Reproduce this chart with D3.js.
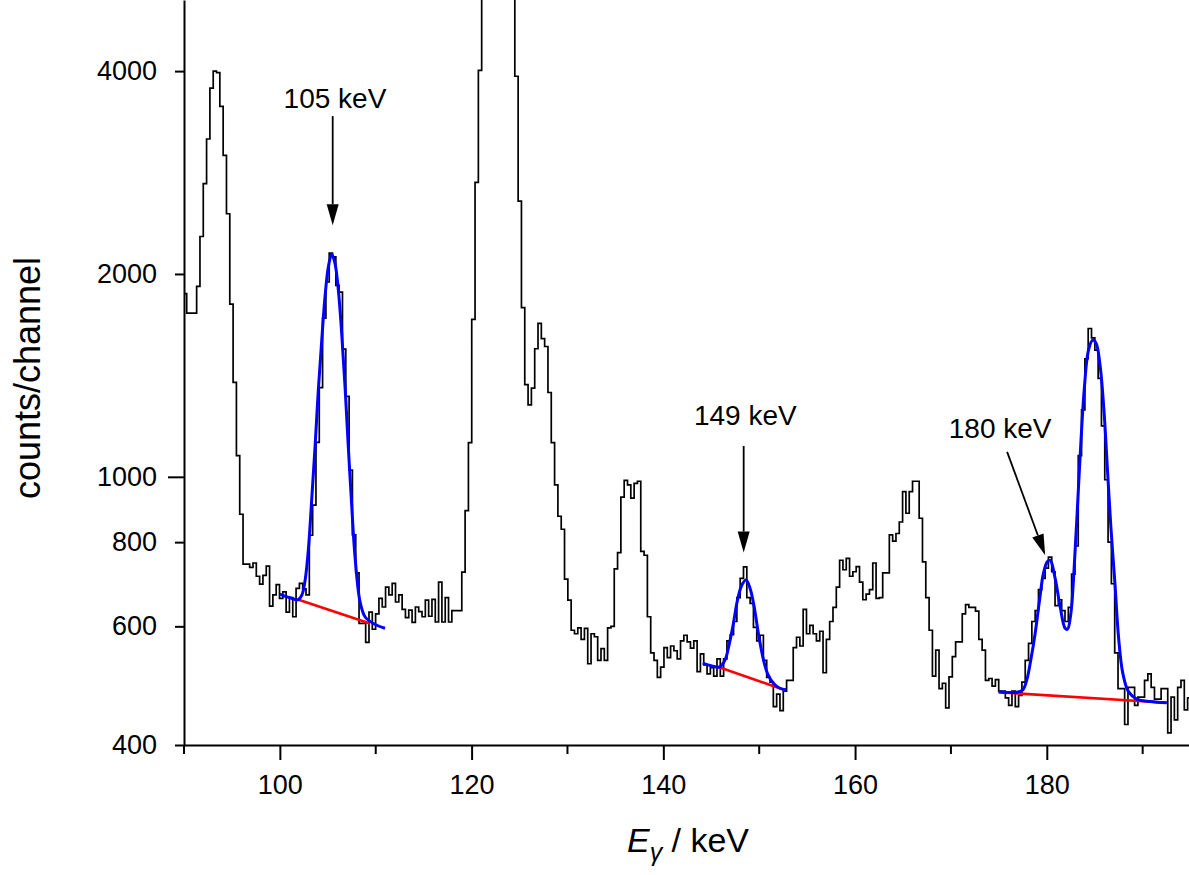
<!DOCTYPE html>
<html>
<head>
<meta charset="utf-8">
<script src="https://cdn.jsdelivr.net/npm/d3@7"></script>
<style>
body { margin: 0; background: #fff; }
text { font-family: "Liberation Sans", Arial, sans-serif; fill: #000; }
</style>
</head>
<body>
<div id="chart"></div>
<script>
// spectrum: counts per channel, channels are 0.3457 keV wide
var firstChannel = 89.936;
var channelWidth = 0.34572;
var counts = [
    1870, 1750, 1750, 1750, 1917, 2273, 2724, 3172, 3773, 4000, 3980, 3545, 3000, 2457, 1804, 1381, 1075, 880, 742, 742,
    734, 745, 712, 693, 714, 737, 643, 668, 692, 660, 675, 630, 662, 620, 683, 695, 682, 668,
    819, 908, 1125, 1356, 1720, 1946, 2148, 2120, 1923, 1880, 1547, 1316, 1023, 820, 720, 606, 606, 568,
    630, 594, 626, 660, 641, 686, 668, 695, 652, 668, 636, 618, 634, 608, 641, 631, 620, 656, 621, 658, 609, 698, 609, 662, 609, 633, 633, 633,
    722, 891, 1124, 1713, 2735, 4010, 5600, 8200, 11500, 14800, 16500, 16000, 13500, 10200, 7400, 5400,
    3930, 2566, 1783, 1370, 1279, 1354, 1549, 1689, 1604, 1561, 1334, 1124, 973, 874, 836, 705, 656, 592, 585, 597,
    574, 596, 528, 585, 579, 534, 556, 534, 597, 600, 730, 772, 933, 988, 973, 930, 978, 985,
    775, 765, 620, 548, 534, 504, 522, 558, 539, 561, 552, 537, 571, 582, 569, 557, 571, 514, 546, 526,
    510, 521, 506, 537, 506, 537, 571, 583, 610, 662, 707, 735,
    662, 649, 598, 571, 582, 534, 504, 496, 456, 476, 450, 481, 499, 499, 558, 578, 561, 636, 585, 602,
    585, 571, 590, 512, 574, 610, 640, 686, 752, 728, 757,
    712, 723, 736, 698, 657, 670, 680, 745, 660, 662, 720, 720, 820, 803, 824, 857, 951, 883, 951, 985,
    985, 868, 748, 662, 592, 506, 553, 485, 494, 454, 505,
    541, 569, 569, 626, 646, 640, 640, 632, 574, 553, 499, 502, 489, 500, 481, 481, 470, 458, 481, 456,
    474, 496, 534, 566, 610, 633, 680, 707, 732, 760,
    723, 644, 657, 633, 610, 640, 717, 790, 1075, 1257, 1497, 1660, 1608, 1542, 1400, 1190, 990, 800, 694, 548,
    485, 485, 429, 487, 487, 458, 471, 471, 499, 510, 487, 468, 468, 485, 485, 417, 471, 436, 487, 499, 451, 470
];

// fitted peaks [keV, counts]
var fit105 = [[100.0, 670], [101.0, 662], [101.9, 657], [102.3, 668], [102.65, 705], [102.97, 779], [103.32, 924],
    [103.67, 1108], [104.01, 1345], [104.37, 1596], [104.71, 1851], [105.06, 2050], [105.41, 2140], [105.75, 2074],
    [106.1, 1893], [106.45, 1633], [106.8, 1360], [107.14, 1108], [107.5, 903], [107.84, 761], [108.36, 653],
    [108.88, 620], [109.75, 606], [110.97, 596]];
var fit149 = [[144.11, 529], [145.05, 524], [145.85, 522], [146.44, 535], [146.89, 566], [147.31, 606], [147.73, 656],
    [148.19, 691], [148.63, 703], [149.05, 683], [149.47, 642], [149.92, 585], [150.37, 541], [150.86, 511],
    [151.48, 494], [152.11, 486], [152.81, 483]];
var fit180 = [[174.96, 480], [176.87, 479], [177.5, 483], [177.92, 500], [178.33, 535], [178.78, 585], [179.24, 656],
    [179.65, 719], [180.05, 748], [180.35, 752], [180.87, 707], [181.39, 642], [181.91, 596], [182.16, 594],
    [182.51, 627], [182.86, 735], [183.2, 903], [183.55, 1121], [183.9, 1345], [184.35, 1542], [184.8, 1596],
    [185.15, 1578], [185.57, 1458], [185.98, 1244], [186.33, 1023], [186.68, 844], [187.13, 687], [187.48, 579],
    [187.93, 511], [188.52, 480], [189.39, 468], [190.78, 464], [192.52, 462]];

// linear backgrounds under the fits
var bg105 = [[101.8, 658], [109.4, 606]];
var bg149 = [[145.6, 523], [152.8, 482]];
var bg180 = [[175.0, 479], [192.5, 462]];

var yTicks = [400, 600, 800, 1000, 2000, 4000];
var xMajorTicks = [100, 120, 140, 160, 180];
var xMinorTicks = [90, 110, 130, 150, 170, 190];

// arrows: label, label anchor, arrow start and tip in [keV, counts]
var notes = [
    {label: "105 keV", at: [105.75, 3525], from: [105.51, 3430], to: [105.51, 2363]},
    {label: "149 keV", at: [148.55, 1194], from: [148.38, 1111], to: [148.38, 772]},
    {label: "180 keV", at: [175.13, 1140], from: [175.86, 1089], to: [179.83, 765]}
];

function main() {
    var width = 1189;
    var height = 875;

    var x = d3.scaleLinear().domain([90, 195]).range([184, 1190.6]);
    var y = d3.scaleLog().domain([400, 5100]).range([745, 0]);

    var svg = d3.select("#chart").append("svg")
        .attr("width", width)
        .attr("height", height);

    svg.append("clipPath").attr("id", "plotArea")
        .append("rect")
        .attr("x", 184).attr("y", 0)
        .attr("width", 1006.6).attr("height", 745);

    var plot = svg.append("g").attr("clip-path", "url(#plotArea)");

    // histogram as steps
    var steps = counts.map(function(c, i) { return [firstChannel + i * channelWidth, c]; });
    steps.push([firstChannel + counts.length * channelWidth, counts[counts.length - 1]]);

    var stepLine = d3.line()
        .x(function(d) { return x(d[0]); })
        .y(function(d) { return y(d[1]); })
        .curve(d3.curveStepAfter);

    plot.append("path")
        .datum(steps)
        .attr("d", stepLine)
        .attr("fill", "none")
        .attr("stroke", "#000")
        .attr("stroke-width", 1.7);

    var straight = d3.line()
        .x(function(d) { return x(d[0]); })
        .y(function(d) { return y(d[1]); });

    var smooth = d3.line()
        .x(function(d) { return x(d[0]); })
        .y(function(d) { return y(d[1]); })
        .curve(d3.curveCatmullRom);

    [bg105, bg149, bg180].forEach(function(bg) {
        plot.append("path")
            .datum(bg)
            .attr("d", straight)
            .attr("fill", "none")
            .attr("stroke", "#ff0000")
            .attr("stroke-width", 2.6);
    });

    [fit105, fit149, fit180].forEach(function(f) {
        plot.append("path")
            .datum(f)
            .attr("d", smooth)
            .attr("fill", "none")
            .attr("stroke", "#0000ff")
            .attr("stroke-width", 3);
    });

    // Y axis
    var yAxis = svg.append("g")
        .attr("transform", "translate(184,0)")
        .call(d3.axisLeft(y).tickValues(yTicks).tickSize(9).tickSizeOuter(0).tickPadding(18)
            .tickFormat(d3.format("d")));
    yAxis.selectAll(".tick line")
        .attr("x2", function(d) { return d === 1000 ? -16 : -9; });

    // X axis
    var xAxis = svg.append("g")
        .attr("transform", "translate(0,745)")
        .call(d3.axisBottom(x).tickValues(xMajorTicks).tickSize(15).tickSizeOuter(0).tickPadding(15));

    xAxis.selectAll(".minor")
        .data(xMinorTicks)
        .enter().append("line")
        .attr("class", "minor")
        .attr("x1", function(d) { return x(d); })
        .attr("x2", function(d) { return x(d); })
        .attr("y1", 0)
        .attr("y2", 9)
        .attr("stroke", "#000");

    svg.selectAll(".domain, .tick line, .minor")
        .attr("stroke", "#000")
        .attr("stroke-width", 2);
    svg.selectAll(".tick text")
        .style("font-size", "27px")
        .style("font-family", "'Liberation Sans', Arial, sans-serif")
        .attr("fill", "#000");

    // axis titles
    svg.append("text")
        .attr("transform", "translate(40,378) rotate(-90)")
        .attr("text-anchor", "middle")
        .style("font-size", "36px")
        .text("counts/channel");

    var xTitle = svg.append("text")
        .attr("x", 688)
        .attr("y", 852)
        .attr("text-anchor", "middle")
        .style("font-size", "34px");
    xTitle.append("tspan").style("font-style", "italic").text("E");
    xTitle.append("tspan").attr("dy", 9).style("font-size", "25px").style("font-style", "italic").text("\u03b3");
    xTitle.append("tspan").attr("dy", -9).text(" / keV");

    // arrows and labels
    notes.forEach(function(n) {
        var x1 = x(n.from[0]), y1 = y(n.from[1]);
        var x2 = x(n.to[0]), y2 = y(n.to[1]);
        var len = Math.sqrt((x2 - x1) * (x2 - x1) + (y2 - y1) * (y2 - y1));
        var ux = (x2 - x1) / len, uy = (y2 - y1) / len;
        var head = 21, half = 6;
        var bx = x2 - ux * head, by = y2 - uy * head;

        svg.append("line")
            .attr("x1", x1).attr("y1", y1)
            .attr("x2", bx).attr("y2", by)
            .attr("stroke", "#000")
            .attr("stroke-width", 1.8);

        svg.append("path")
            .attr("d", "M" + x2 + "," + y2 +
                "L" + (bx - uy * half) + "," + (by + ux * half) +
                "L" + (bx + uy * half) + "," + (by - ux * half) + "Z")
            .attr("fill", "#000");

        svg.append("text")
            .attr("x", x(n.at[0]))
            .attr("y", y(n.at[1]))
            .attr("text-anchor", "middle")
            .style("font-size", "28px")
            .text(n.label);
    });
}

main();
</script>
</body>
</html>
